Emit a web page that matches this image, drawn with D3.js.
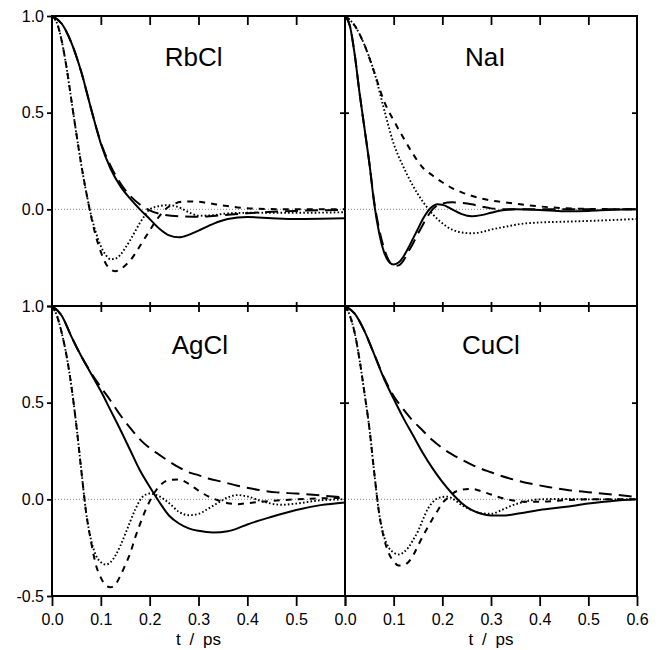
<!DOCTYPE html>
<html><head><meta charset="utf-8">
<script src="https://cdn.jsdelivr.net/npm/d3@7"></script>
<style>body{margin:0;background:#fff}svg text{font-family:"Liberation Sans",Arial,Helvetica,sans-serif;fill:#000}</style>
</head><body><svg id="c" width="660" height="650"></svg>
<script>
// ---------- data ----------
const panelNames = ["RbCl", "NaI", "AgCl", "CuCl"];
const timeTicks = [0, 0.1, 0.2, 0.3, 0.4, 0.5, 0.6];
const valueTicks = [-0.5, 0, 0.5, 1.0];
const xAxisTitle = "t / ps";

const rbclSolid = [[0,1],[0.02,0.96],[0.04,0.86],[0.06,0.71],[0.08,0.52],[0.1,0.34],[0.12,0.21],[0.14,0.12],[0.16,0.055],[0.18,0.0],[0.2,-0.05],[0.22,-0.1],[0.24,-0.135],[0.26,-0.145],[0.28,-0.132],[0.3,-0.11],[0.33,-0.075],[0.36,-0.05],[0.4,-0.04],[0.45,-0.046],[0.5,-0.05],[0.55,-0.049],[0.6,-0.046]];
const rbclLong = [[0,1],[0.02,0.96],[0.04,0.86],[0.06,0.71],[0.08,0.52],[0.1,0.345],[0.12,0.225],[0.14,0.135],[0.16,0.07],[0.18,0.025],[0.2,-0.005],[0.23,-0.028],[0.26,-0.036],[0.3,-0.038],[0.35,-0.03],[0.4,-0.02],[0.45,-0.013],[0.5,-0.008],[0.6,-0.003]];
const rbclDot = [[0,1],[0.01,0.965],[0.02,0.87],[0.03,0.73],[0.04,0.56],[0.05,0.39],[0.06,0.23],[0.07,0.09],[0.08,-0.03],[0.09,-0.12],[0.1,-0.19],[0.11,-0.235],[0.12,-0.258],[0.13,-0.255],[0.14,-0.235],[0.15,-0.2],[0.16,-0.16],[0.17,-0.115],[0.18,-0.07],[0.19,-0.032],[0.2,0.0],[0.22,0.017],[0.24,0.022],[0.26,0.01],[0.28,-0.015],[0.3,-0.033],[0.33,-0.03],[0.36,-0.021],[0.4,-0.018],[0.5,-0.018],[0.6,-0.015]];
const rbclShort = [[0,1],[0.01,0.965],[0.02,0.87],[0.03,0.73],[0.04,0.56],[0.05,0.39],[0.06,0.23],[0.07,0.09],[0.08,-0.035],[0.09,-0.14],[0.1,-0.22],[0.11,-0.28],[0.12,-0.31],[0.13,-0.32],[0.14,-0.31],[0.15,-0.29],[0.16,-0.265],[0.17,-0.23],[0.18,-0.19],[0.19,-0.15],[0.2,-0.11],[0.21,-0.07],[0.22,-0.035],[0.23,-0.005],[0.25,0.028],[0.27,0.04],[0.29,0.041],[0.32,0.032],[0.35,0.02],[0.38,0.01],[0.42,0.003],[0.5,0.0],[0.6,0.0]];

const naiSolid = [[0,1],[0.01,0.95],[0.02,0.8],[0.03,0.6],[0.04,0.42],[0.05,0.24],[0.06,0.03],[0.07,-0.12],[0.08,-0.22],[0.09,-0.27],[0.1,-0.285],[0.11,-0.275],[0.12,-0.245],[0.13,-0.2],[0.14,-0.15],[0.15,-0.1],[0.16,-0.05],[0.17,-0.01],[0.18,0.015],[0.19,0.026],[0.2,0.024],[0.22,0.0],[0.24,-0.025],[0.26,-0.036],[0.28,-0.03],[0.3,-0.018],[0.32,-0.006],[0.35,0.0],[0.4,-0.003],[0.45,-0.01],[0.5,-0.008],[0.55,-0.002],[0.6,0.0]];
const naiLong = [[0,1],[0.01,0.95],[0.02,0.8],[0.03,0.6],[0.04,0.42],[0.05,0.24],[0.06,0.04],[0.07,-0.1],[0.08,-0.2],[0.09,-0.265],[0.1,-0.293],[0.11,-0.29],[0.12,-0.265],[0.13,-0.22],[0.14,-0.175],[0.15,-0.125],[0.16,-0.08],[0.17,-0.035],[0.18,0.0],[0.19,0.02],[0.2,0.03],[0.22,0.036],[0.24,0.033],[0.26,0.026],[0.28,0.015],[0.3,0.005],[0.33,0.0],[0.6,0.0]];
const naiDot = [[0,1],[0.02,0.95],[0.04,0.85],[0.06,0.71],[0.08,0.52],[0.1,0.34],[0.12,0.22],[0.14,0.12],[0.16,0.04],[0.18,-0.025],[0.2,-0.072],[0.22,-0.105],[0.24,-0.12],[0.26,-0.124],[0.28,-0.118],[0.3,-0.105],[0.33,-0.09],[0.36,-0.076],[0.4,-0.068],[0.45,-0.064],[0.5,-0.06],[0.6,-0.05]];
const naiShort = [[0,1],[0.02,0.95],[0.04,0.85],[0.06,0.71],[0.08,0.56],[0.1,0.46],[0.12,0.37],[0.14,0.285],[0.16,0.215],[0.18,0.175],[0.2,0.14],[0.22,0.11],[0.24,0.088],[0.26,0.07],[0.28,0.056],[0.3,0.046],[0.33,0.036],[0.36,0.026],[0.4,0.015],[0.45,0.006],[0.5,0.002],[0.6,0.0]];

const agclSolid = [[0,1],[0.02,0.95],[0.04,0.84],[0.06,0.74],[0.08,0.65],[0.1,0.56],[0.12,0.46],[0.14,0.36],[0.16,0.255],[0.18,0.15],[0.2,0.065],[0.22,-0.015],[0.24,-0.085],[0.26,-0.125],[0.28,-0.15],[0.3,-0.163],[0.33,-0.172],[0.36,-0.165],[0.38,-0.15],[0.4,-0.13],[0.45,-0.09],[0.5,-0.055],[0.55,-0.03],[0.6,-0.016]];
const agclLong = [[0,1],[0.02,0.95],[0.04,0.84],[0.06,0.74],[0.08,0.655],[0.1,0.58],[0.12,0.51],[0.14,0.435],[0.16,0.37],[0.18,0.31],[0.2,0.265],[0.22,0.23],[0.24,0.196],[0.26,0.165],[0.28,0.14],[0.3,0.125],[0.32,0.108],[0.35,0.09],[0.38,0.07],[0.42,0.05],[0.46,0.036],[0.5,0.03],[0.55,0.02],[0.6,0.01]];
const agclDot = [[0,1],[0.01,0.95],[0.02,0.86],[0.03,0.74],[0.04,0.58],[0.05,0.38],[0.06,0.15],[0.07,-0.07],[0.08,-0.21],[0.09,-0.29],[0.1,-0.325],[0.11,-0.337],[0.12,-0.325],[0.13,-0.29],[0.14,-0.24],[0.15,-0.18],[0.16,-0.115],[0.17,-0.055],[0.18,-0.005],[0.19,0.022],[0.2,0.03],[0.22,0.015],[0.24,-0.02],[0.26,-0.065],[0.28,-0.082],[0.3,-0.075],[0.32,-0.048],[0.34,-0.018],[0.36,0.01],[0.38,0.022],[0.4,0.015],[0.43,-0.01],[0.47,-0.028],[0.5,-0.022],[0.55,-0.005],[0.6,0.0]];
const agclShort = [[0,1],[0.01,0.95],[0.02,0.86],[0.03,0.74],[0.04,0.58],[0.05,0.38],[0.06,0.15],[0.07,-0.07],[0.08,-0.22],[0.09,-0.34],[0.1,-0.405],[0.11,-0.445],[0.12,-0.455],[0.13,-0.44],[0.14,-0.395],[0.15,-0.34],[0.16,-0.28],[0.17,-0.2],[0.18,-0.13],[0.19,-0.065],[0.2,-0.01],[0.21,0.035],[0.22,0.068],[0.24,0.1],[0.26,0.103],[0.28,0.08],[0.3,0.045],[0.32,0.015],[0.34,-0.005],[0.36,-0.02],[0.38,-0.025],[0.4,-0.02],[0.45,-0.008],[0.5,0.0],[0.6,0.008]];

const cuclSolid = [[0,1],[0.02,0.96],[0.04,0.87],[0.06,0.75],[0.08,0.625],[0.1,0.52],[0.12,0.42],[0.14,0.33],[0.16,0.24],[0.18,0.16],[0.2,0.09],[0.22,0.03],[0.24,-0.02],[0.26,-0.055],[0.28,-0.075],[0.3,-0.083],[0.33,-0.083],[0.36,-0.072],[0.4,-0.055],[0.45,-0.04],[0.5,-0.022],[0.55,-0.008],[0.6,0.0]];
const cuclLong = [[0,1],[0.02,0.96],[0.04,0.87],[0.06,0.75],[0.08,0.63],[0.1,0.535],[0.12,0.465],[0.14,0.405],[0.16,0.355],[0.18,0.305],[0.2,0.265],[0.22,0.232],[0.24,0.205],[0.26,0.18],[0.28,0.158],[0.3,0.14],[0.32,0.122],[0.35,0.1],[0.38,0.082],[0.42,0.063],[0.46,0.047],[0.5,0.037],[0.55,0.025],[0.6,0.012]];
const cuclDot = [[0,1],[0.01,0.95],[0.02,0.86],[0.03,0.72],[0.04,0.55],[0.05,0.37],[0.06,0.14],[0.07,-0.07],[0.08,-0.19],[0.09,-0.25],[0.1,-0.275],[0.11,-0.285],[0.12,-0.275],[0.13,-0.25],[0.14,-0.21],[0.15,-0.165],[0.16,-0.105],[0.17,-0.05],[0.18,-0.015],[0.19,0.005],[0.2,0.012],[0.21,0.014],[0.22,0.005],[0.24,-0.03],[0.26,-0.055],[0.28,-0.072],[0.3,-0.075],[0.32,-0.058],[0.34,-0.035],[0.37,-0.012],[0.4,0.0],[0.45,0.002],[0.5,0.0],[0.6,0.0]];
const cuclShort = [[0,1],[0.01,0.95],[0.02,0.86],[0.03,0.72],[0.04,0.55],[0.05,0.37],[0.06,0.14],[0.07,-0.07],[0.08,-0.2],[0.09,-0.28],[0.1,-0.32],[0.11,-0.342],[0.12,-0.34],[0.13,-0.325],[0.14,-0.29],[0.15,-0.24],[0.16,-0.19],[0.17,-0.145],[0.18,-0.1],[0.19,-0.06],[0.2,-0.02],[0.21,0.005],[0.22,0.028],[0.24,0.05],[0.26,0.054],[0.28,0.042],[0.3,0.025],[0.32,0.008],[0.34,-0.003],[0.37,-0.012],[0.4,-0.012],[0.45,-0.005],[0.5,0.0],[0.6,0.0]];

// ---------- layout / styles ----------
const colX = [[52, 345], [345, 637]];
const rowY = [[306, 16], [596, 306]];
const labelPos = [[0.29, 0.74], [0.288, 0.74], [0.303, 0.75], [0.30, 0.75]];
const lineStyles = {
  solid: {dash: null, width: 2},
  long:  {dash: "13,7", width: 2},
  short: {dash: "6,6", width: 2},
  dot:   {dash: "1.6,2.2", width: 1.9}
};
const panels = [
  {name: panelNames[0], col: 0, row: 0, series: {solid: rbclSolid, long: rbclLong, dot: rbclDot, short: rbclShort}},
  {name: panelNames[1], col: 1, row: 0, series: {solid: naiSolid, long: naiLong, dot: naiDot, short: naiShort}},
  {name: panelNames[2], col: 0, row: 1, series: {solid: agclSolid, long: agclLong, dot: agclDot, short: agclShort}},
  {name: panelNames[3], col: 1, row: 1, series: {solid: cuclSolid, long: cuclLong, dot: cuclDot, short: cuclShort}}
];

const svg = d3.select("#c");
const fmt = d => d.toFixed(1);

panels.forEach((p, i) => {
  const x = d3.scaleLinear().domain([0, 0.6]).range(colX[p.col]);
  const y = d3.scaleLinear().domain([-0.5, 1.0]).range(rowY[p.row]);
  const g = svg.append("g");
  const clipId = "clip" + i;
  svg.append("clipPath").attr("id", clipId).append("rect")
    .attr("x", x(0)).attr("y", y(1)).attr("width", x(0.6) - x(0)).attr("height", y(-0.5) - y(1));

  // zero line
  g.append("line").attr("x1", x(0)).attr("x2", x(0.6)).attr("y1", y(0)).attr("y2", y(0))
    .attr("stroke", "#777").attr("stroke-width", 0.9).attr("stroke-dasharray", "1,2");

  // curves
  const line = d3.line().x(d => x(d[0])).y(d => y(d[1])).curve(d3.curveMonotoneX);
  const cg = g.append("g").attr("clip-path", `url(#${clipId})`);
  ["solid", "long", "short", "dot"].forEach(k => {
    const st = lineStyles[k];
    cg.append("path").datum(p.series[k]).attr("d", line)
      .attr("fill", "none").attr("stroke", "#000").attr("stroke-width", st.width)
      .attr("stroke-dasharray", st.dash);
  });

  // frame
  g.append("rect").attr("x", x(0)).attr("y", y(1)).attr("width", x(0.6) - x(0)).attr("height", y(-0.5) - y(1))
    .attr("fill", "none").attr("stroke", "#000").attr("stroke-width", 2);

  const inner = timeTicks.filter(t => t > 0 && t < 0.6);
  // top ticks (inward)
  const topAx = g.append("g").attr("transform", `translate(0,${y(1)})`)
    .call(d3.axisTop(x).tickValues(inner).tickSize(p.row === 0 ? -9 : -6).tickFormat(""));
  // bottom ticks
  const botAx = g.append("g").attr("transform", `translate(0,${y(-0.5)})`);
  if (p.row === 1) {
    botAx.call(d3.axisBottom(x).tickValues(timeTicks).tickSize(10).tickPadding(8)
      .tickFormat(d => (p.col === 0 && d === 0.6) ? "" : fmt(d)));
    botAx.selectAll("text").attr("font-size", 16);
    g.append("text").attr("x", (x(0) + x(0.6)) / 2).attr("y", y(-0.5) + 49)
      .attr("text-anchor", "middle").attr("font-size", 17).attr("word-spacing", "4px").text(xAxisTitle);
  } else {
    botAx.call(d3.axisBottom(x).tickValues(inner).tickSize(-4).tickFormat(""));
  }
  // left ticks
  const leftAx = g.append("g").attr("transform", `translate(${x(0)},0)`);
  if (p.col === 0) {
    leftAx.call(d3.axisLeft(y).tickValues(valueTicks).tickSize(5).tickPadding(3)
      .tickFormat(d => (p.row === 0 && d < 0) ? "" : fmt(d)));
    leftAx.selectAll("text").attr("font-size", 16);
  } else {
    leftAx.call(d3.axisLeft(y).tickValues([0.5]).tickSize(-4).tickFormat(""));
  }
  // right ticks (inward)
  g.append("g").attr("transform", `translate(${x(0.6)},0)`)
    .call(d3.axisRight(y).tickValues([0.5]).tickSize(-5).tickFormat(""));

  g.selectAll(".domain").remove();
  g.selectAll(".tick line").attr("stroke", "#000").attr("stroke-width", 1.8);

  // panel label
  g.append("text").attr("x", x(labelPos[i][0])).attr("y", y(labelPos[i][1]))
    .attr("text-anchor", "middle").attr("font-size", 26).text(p.name);
});
svg.selectAll(".tick text").attr("font-family", '"Liberation Sans",Arial,sans-serif').attr("fill", "#000");
</script></body></html>
